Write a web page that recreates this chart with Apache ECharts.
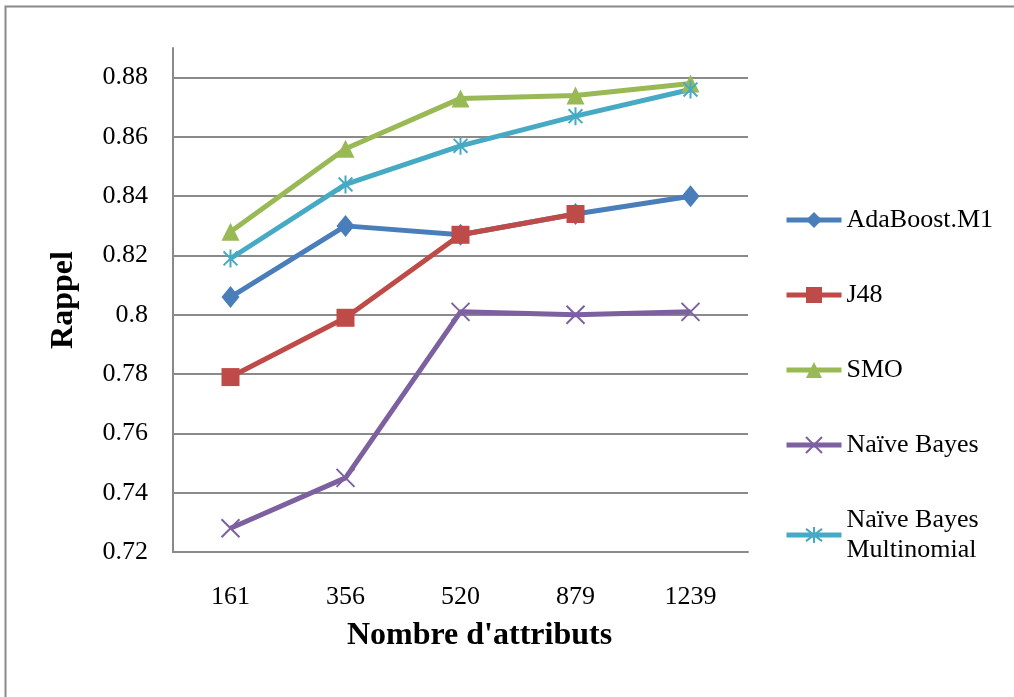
<!DOCTYPE html>
<html>
<head>
<meta charset="utf-8">
<script src="https://cdn.jsdelivr.net/npm/echarts@6/dist/echarts.min.js"></script>
<style>html,body{margin:0;padding:0;background:#fff;}#c{width:1014px;height:697px;}</style>
</head>
<body>
<div id="c"></div>
<script>
const categories = ['161', '356', '520', '879', '1239'];
const adaboost = [0.806, 0.830, 0.827, 0.834, 0.840];
const j48 = [0.779, 0.799, 0.827, 0.834, '-'];
const smo = [0.828, 0.856, 0.873, 0.874, 0.878];
const naiveBayes = [0.728, 0.745, 0.801, 0.800, 0.801];
const nbMultinomial = [0.819, 0.844, 0.857, 0.867, 0.876];
const seriesNames = ['AdaBoost.M1', 'J48', 'SMO', 'Naïve Bayes', 'Naïve Bayes\nMultinomial'];

const FONT = '"Liberation Serif", "Times New Roman", serif';
const chart = echarts.init(document.getElementById('c'));

function lineSeries(name, data, color, symbol, size, extra) {
  return Object.assign({
    name: name,
    type: 'line',
    data: data,
    symbol: symbol,
    symbolSize: size,
    symbolKeepAspect: true,
    lineStyle: { color: color, width: 5 },
    itemStyle: { color: color },
    emphasis: { disabled: true }
  }, extra || {});
}

const XPATH = 'path://M0,0L10,10M10,0L0,10';
const STARPATH = 'path://M0,0L10,10M10,0L0,10M5,-1.5L5,11.5';

chart.setOption({
  animation: false,
  backgroundColor: '#fff',
  graphic: [{
    type: 'rect',
    shape: { x: 5.5, y: 6.5, width: 1100, height: 800 },
    style: { fill: 'none', stroke: '#8a8a8a', lineWidth: 2 },
    silent: true
  }],
  grid: { left: 173, right: 266, top: 48, bottom: 145 },
  legend: {
    orient: 'vertical',
    left: 779,
    top: 200,
    itemWidth: 55,
    itemHeight: 20,
    itemGap: 45,
    lineStyle: { width: 5 },
    textStyle: { fontFamily: FONT, fontSize: 26, color: '#000', lineHeight: 30 },
    data: seriesNames
  },
  xAxis: {
    type: 'category',
    data: categories,
    boundaryGap: true,
    name: "Nombre d'attributs",
    nameLocation: 'middle',
    nameGap: 68,
    nameTextStyle: { fontFamily: FONT, fontSize: 32, fontWeight: 'bold', color: '#000', padding: [0, 0, 0, 38] },
    axisLine: { lineStyle: { color: '#8a8a8a', width: 2 } },
    axisTick: { show: false },
    axisLabel: { fontFamily: FONT, fontSize: 26, color: '#000', margin: 32 }
  },
  yAxis: {
    type: 'value',
    min: 0.72,
    max: 0.89,
    interval: 0.02,
    name: 'Rappel',
    nameLocation: 'middle',
    nameGap: 93,
    nameTextStyle: { fontFamily: FONT, fontSize: 32, fontWeight: 'bold', color: '#000' },
    axisLine: { show: true, lineStyle: { color: '#8a8a8a', width: 2 } },
    axisTick: { show: false },
    axisLabel: {
      fontFamily: FONT, fontSize: 26, color: '#000', margin: 25,
      showMaxLabel: false,
      formatter: function (v) { return Math.abs(v - 0.89) < 1e-6 ? '' : String(parseFloat(v.toFixed(2))); }
    },
    splitLine: { show: true, showMaxLine: false, lineStyle: { color: '#8a8a8a', width: 2 } }
  },
  series: [
    lineSeries(seriesNames[0], adaboost, '#4A7EBB', 'diamond', [18, 22]),
    lineSeries(seriesNames[1], j48, '#BE4B48', 'rect', 18),
    lineSeries(seriesNames[2], smo, '#98B954', 'triangle', 18),
    lineSeries(seriesNames[3], naiveBayes, '#7D60A0', XPATH, 18,
      { itemStyle: { color: '#7D60A0', borderColor: '#7D60A0', borderWidth: 2 } }),
    lineSeries(seriesNames[4], nbMultinomial, '#46AAC5', STARPATH, 18,
      { itemStyle: { color: '#46AAC5', borderColor: '#46AAC5', borderWidth: 2 } })
  ]
});
</script>
</body>
</html>
